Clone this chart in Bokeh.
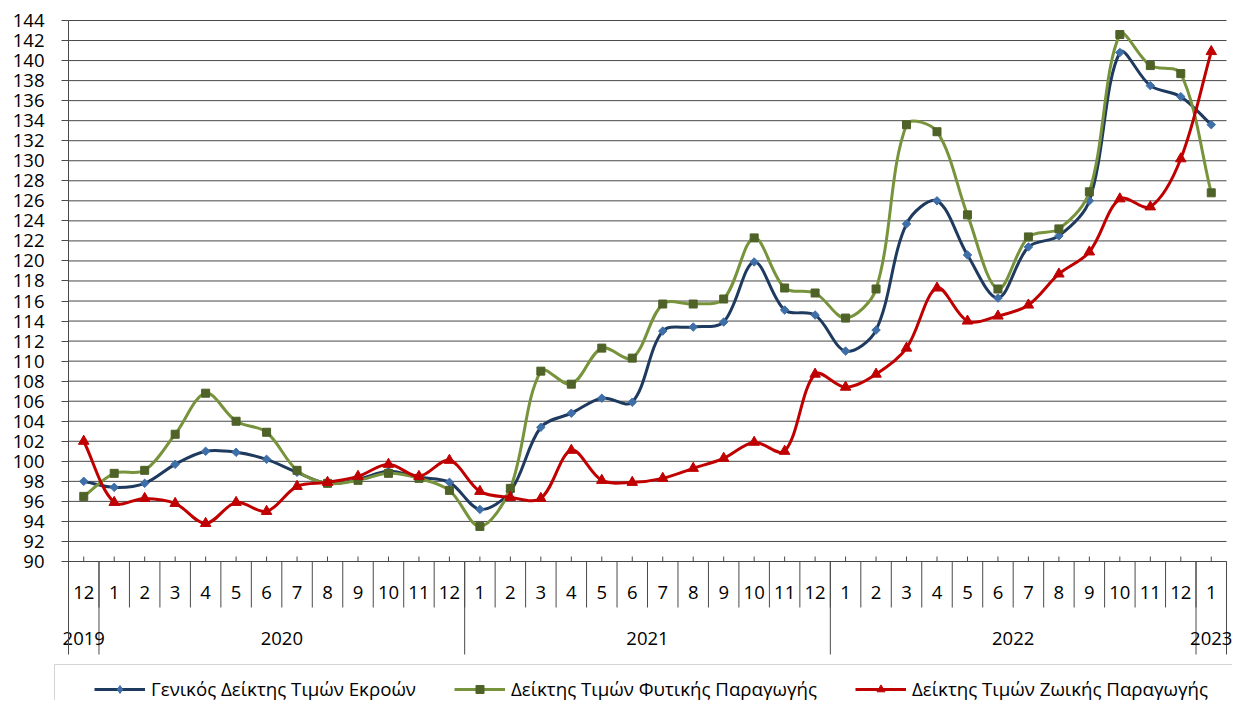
import numpy as np
from bokeh.plotting import figure
from bokeh.models import (Range1d, FixedTicker, ColumnDataSource, Legend, LegendItem,
                          BoxAnnotation)
from bokeh.core.properties import value
from bokeh.embed import file_html
from bokeh.resources import INLINE

# ---------------- data ----------------
months = ["12", "1", "2", "3", "4", "5", "6", "7", "8", "9", "10", "11", "12",
          "1", "2", "3", "4", "5", "6", "7", "8", "9", "10", "11", "12",
          "1", "2", "3", "4", "5", "6", "7", "8", "9", "10", "11", "12", "1"]
year_labels = ["2019", "2020", "2021", "2022", "2023"]
year_first = [0, 1, 13, 25, 37]   # index of first month of each year
year_last = [0, 12, 24, 36, 37]   # index of last month of each year

general = [98.0, 97.4, 97.8, 99.7, 101.0, 100.9, 100.2, 98.9, 97.8, 98.2, 99.0, 98.4, 97.9,
           95.2, 97.0, 103.4, 104.8, 106.3, 105.9, 113.0, 113.4, 113.9, 119.9, 115.1, 114.6,
           111.0, 113.1, 123.7, 126.0, 120.6, 116.3, 121.4, 122.5, 126.0, 140.8, 137.5, 136.4,
           133.6]
plant = [96.5, 98.8, 99.1, 102.7, 106.8, 104.0, 102.9, 99.1, 97.8, 98.1, 98.8, 98.3, 97.1,
         93.5, 97.3, 109.0, 107.7, 111.3, 110.3, 115.7, 115.7, 116.2, 122.3, 117.3, 116.8,
         114.3, 117.2, 133.6, 132.9, 124.6, 117.2, 122.4, 123.2, 126.9, 142.6, 139.5, 138.7,
         126.8]
animal = [102.0, 95.9, 96.3, 95.8, 93.8, 95.9, 95.0, 97.5, 97.9, 98.5, 99.7, 98.5, 100.1,
          97.0, 96.4, 96.3, 101.1, 98.1, 97.9, 98.3, 99.3, 100.3, 101.9, 101.0, 108.7,
          107.4, 108.7, 111.3, 117.3, 114.0, 114.5, 115.6, 118.7, 120.9, 126.2, 125.4, 130.2,
          140.9]
series_names = ["Γενικός Δείκτης Τιμών Εκροών",
                "Δείκτης Τιμών Φυτικής Παραγωγής",
                "Δείκτης Τιμών Ζωικής Παραγωγής"]
y_ticks = list(range(90, 145, 2))

# ---------------- layout / styling ----------------
FONT = "Open Sans"
FS = "18.5px"
n = len(months)
xi = np.arange(n)

W, H = 1232, 700
PX_X = (1226 - 68) / n          # pixels per category
PX_Y = (561 - 20) / 54.0        # pixels per index unit
X0 = -0.5 - 68 / PX_X
X1 = n - 0.5 + (W - 1226) / PX_X
Y1 = 144 + 20 / PX_Y
Y0 = 90 - (H - 561) / PX_Y

Y_MONTH_SEP = 90 - 46 / PX_Y
Y_YEAR_SEP = 90 - 93 / PX_Y
Y_MONTH_LBL = 90 - 31 / PX_Y
Y_YEAR_LBL = 90 - 77 / PX_Y
LINE_C = "#4a4a4a"

p = figure(width=W, height=H, output_backend="svg", toolbar_location=None,
           x_range=Range1d(X0, X1), y_range=Range1d(Y0, Y1),
           x_axis_location=None, min_border_left=0, min_border_right=0,
           min_border_top=0, min_border_bottom=0)
p.outline_line_color = None
p.background_fill_color = "white"
p.border_fill_color = "white"
p.xgrid.visible = False
p.ygrid.visible = False

yax = p.yaxis[0]
yax.fixed_location = -0.5
yax.ticker = FixedTicker(ticks=y_ticks)
yax.bounds = (Y_YEAR_SEP, 144)
yax.major_tick_out = 7
yax.major_tick_in = 0
yax.minor_tick_out = 0
yax.minor_tick_in = 0
yax.axis_line_color = LINE_C
yax.major_tick_line_color = LINE_C
yax.major_label_text_font = FONT
yax.major_label_text_font_size = FS
yax.major_label_text_color = "black"
yax.major_label_standoff = 17

# horizontal gridlines at the y ticks
p.segment(x0=[-0.5] * len(y_ticks), y0=y_ticks, x1=[n - 0.5] * len(y_ticks), y1=y_ticks,
          line_color="#484848", line_width=1)

# category separators and ticks
bx = list(xi + 0.5)
p.segment(x0=bx, y0=[90] * n, x1=bx, y1=[Y_MONTH_SEP] * n,
          line_color=LINE_C, line_width=1)
ysep = [f - 0.5 for f in year_first[1:]] + [year_last[-1] + 0.5]
p.segment(x0=ysep, y0=[90] * len(ysep), x1=ysep, y1=[Y_YEAR_SEP] * len(ysep),
          line_color=LINE_C, line_width=1)
p.segment(x0=list(xi), y0=[90] * n, x1=list(xi), y1=[90 + 5 / PX_Y] * n,
          line_color=LINE_C, line_width=1)

# month labels
p.text(x=list(xi), y=[Y_MONTH_LBL] * n, text=months, text_align="center",
       text_baseline="middle", text_font=value(FONT), text_font_size=value(FS),
       text_color="black")

# year labels
p.text(x=[(a + b) / 2 for a, b in zip(year_first, year_last)],
       y=[Y_YEAR_LBL] * len(year_labels), text=year_labels, text_align="center",
       text_baseline="middle", text_font=value(FONT), text_font_size=value(FS),
       text_color="black")


def smooth(xs, ys):
    """Bezier control points (Excel-like smoothed line), computed in pixel space."""
    xs = np.asarray(xs, float)
    ys = np.asarray(ys, float)
    xp = np.concatenate([[xs[0]], xs, [xs[-1]]])
    yp = np.concatenate([[ys[0]], ys, [ys[-1]]])
    d = np.hypot(np.diff(xp) * PX_X, np.diff(yp) * PX_Y)
    i = np.arange(len(xs) - 1)
    dm1, d0, d1 = d[i], d[i + 1], d[i + 2]
    f0 = np.where(dm1 + d0 > 0, d0 / np.maximum(dm1 + d0, 1e-9), 0) / 3.0
    f1 = np.where(d0 + d1 > 0, d0 / np.maximum(d0 + d1, 1e-9), 0) / 3.0
    return dict(
        x0=xp[i + 1], y0=yp[i + 1], x1=xp[i + 2], y1=yp[i + 2],
        cx0=xp[i + 1] + (xp[i + 2] - xp[i]) * f0,
        cy0=yp[i + 1] + (yp[i + 2] - yp[i]) * f0,
        cx1=xp[i + 2] - (xp[i + 3] - xp[i + 1]) * f1,
        cy1=yp[i + 2] - (yp[i + 3] - yp[i + 1]) * f1,
    )


styles = [
    dict(data=general, line="#1F3A5F", mk="square", mk_color="#3E6FA8", size=6,
         angle=np.pi / 4, leg_mk="diamond", leg_size=10),
    dict(data=plant, line="#77933C", mk="square", mk_color="#4F6228", size=8,
         angle=0, leg_mk="square", leg_size=8),
    dict(data=animal, line="#C00000", mk="triangle", mk_color="#C00000", size=10.5,
         angle=0, leg_mk="triangle", leg_size=10.5),
]

items = []
for name, st in zip(series_names, styles):
    src = ColumnDataSource(smooth(xi, st["data"]))
    br = p.bezier(x0="x0", y0="y0", x1="x1", y1="y1", cx0="cx0", cy0="cy0",
                  cx1="cx1", cy1="cy1", source=src, line_color=st["line"], line_width=3)
    p.scatter(x=list(xi), y=st["data"], marker=st["mk"], size=st["size"],
              angle=st["angle"], fill_color=st["mk_color"], line_color=st["mk_color"])
    # legend-only marker (not drawn in the plot: no finite coordinates)
    lr = p.scatter(x=[np.nan], y=[np.nan], marker=st["leg_mk"], size=st["leg_size"],
                   fill_color=st["mk_color"], line_color=st["mk_color"])
    items.append(LegendItem(label=name, renderers=[br, lr]))

legend = Legend(items=items, orientation="horizontal", location=(94, -1),
                glyph_width=51, glyph_height=20, label_standoff=6, spacing=38,
                padding=0, margin=0, border_line_color=None, background_fill_alpha=0,
                label_text_font=FONT, label_text_font_size="18.7px", label_text_color="black")
p.add_layout(legend)

p.add_layout(BoxAnnotation(left=54, right=1400, top=664, bottom=900,
                           left_units="canvas", right_units="canvas",
                           top_units="canvas", bottom_units="canvas",
                           fill_alpha=0, line_color="#707070", line_width=1))

open("out.html", "w").write(file_html(p, INLINE))
